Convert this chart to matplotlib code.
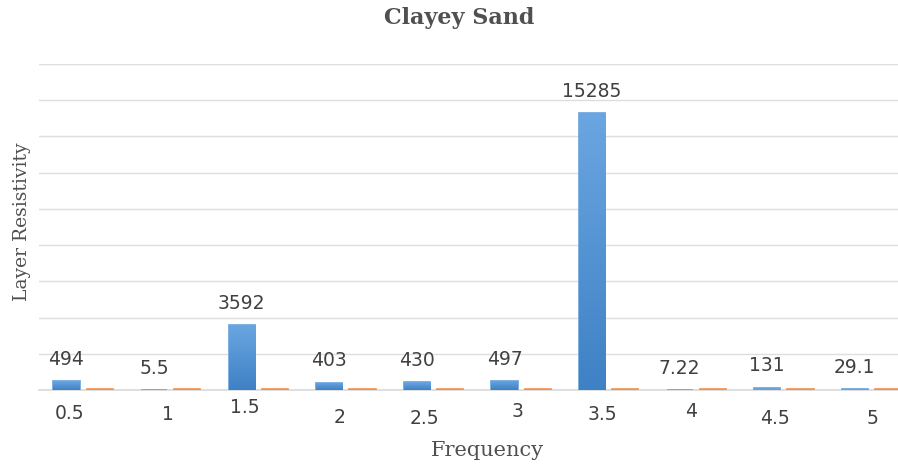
import numpy as np
import matplotlib
matplotlib.use('Agg')
import matplotlib.pyplot as plt
import matplotlib.colors as mcolors

# data
frequency = ['0.5', '1', '1.5', '2', '2.5', '3', '3.5', '4', '4.5', '5']
resistivity = [494, 5.5, 3592, 403, 430, 497, 15285, 7.22, 131, 29.1]
value_labels = ['494', '5.5', '3592', '403', '430', '497', '15285', '7.22', '131', '29.1']
# second (orange) series only shows as thin lines at the baseline
second_series = [40, 40, 40, 40, 40, 40, 40, 40, 40, 40]

# category labels were hand-placed in the original: pixel nudges (dx, dy below axis)
tick_dx = [-13.4, -2.4, -13.7, -6.2, -8.8, -3.4, -6.0, -5.6, -9.2, 1.2]
tick_dy = [22, 23, 16, 26, 27, 20, 23, 20, 27, 27]

PX = 0.72  # points per pixel at dpi 100
txt_col = '#404040'

fig = plt.figure(figsize=(8.98, 4.65), dpi=100, facecolor='w')
ax = fig.add_axes([39.3/898, 75/465, 876/898, 326/465])

x = np.arange(len(frequency))
w, off = 0.30, 0.19
blue_bars = ax.bar(x - off, resistivity, w, color='#66a2de', edgecolor='#66a2de',
                   linewidth=1.2, zorder=3)
ax.bar(x + off, second_series, w, color='#f3904c', edgecolor='#f3904c',
       linewidth=1.2, zorder=3)

# excel-like vertical gradient on the blue bars (only visible on the taller ones)
grad = mcolors.LinearSegmentedColormap.from_list('bgrad', ['#3f81c5', '#6aa6e1'])
for r in blue_bars:
    if r.get_height() < 300:
        continue
    im = ax.imshow(np.linspace(0, 1, 256).reshape(-1, 1), cmap=grad, origin='lower',
                   extent=[r.get_x(), r.get_x() + r.get_width(), 0, r.get_height()],
                   aspect='auto', zorder=3.5, interpolation='bilinear')
    im.set_clip_path(r)

for xi, v, lbl in zip(x, resistivity, value_labels):
    ax.annotate(lbl, (xi - off, v), xytext=(0, 16.3*PX), textcoords='offset points',
                ha='center', va='baseline', fontsize=13.5, color=txt_col)

for xi, lbl, dx, dy in zip(x, frequency, tick_dx, tick_dy):
    ax.annotate(lbl, (xi, 0), xycoords=('data', 'axes fraction'),
                xytext=(dx*PX, -(dy + 6.8)*PX), textcoords='offset points',
                ha='center', va='baseline', fontsize=13.5, color=txt_col,
                annotation_clip=False)

ax.set_xlim(-0.5, 9.5)
ax.set_ylim(0, 18000)
ax.set_yticks(np.arange(0, 18001, 2000))
ax.set_yticklabels([])
ax.set_xticks([])
ax.tick_params(length=0)
ax.grid(axis='y', color='#dedede', linewidth=1.0, zorder=0)
ax.set_axisbelow(True)
for s in ['top', 'right', 'left']:
    ax.spines[s].set_visible(False)
ax.spines['bottom'].set_color('#d9d9d9')
ax.spines['bottom'].set_linewidth(1.2)

fig.text(459/898, 1 - 18/465, 'Clayey Sand', ha='center', va='center', fontsize=16,
         fontweight='bold', family='DejaVu Serif', color='#505050')
fig.text(487.5/898, 1 - 450/465, 'Frequency', ha='center', va='center', fontsize=15,
         family='DejaVu Serif', color='#505050')
fig.text(22/898, 1 - 221.5/465, 'Layer Resistivity', ha='center', va='center',
         rotation=90, fontsize=13.5, family='DejaVu Serif', color='#505050')

fig.savefig('out.png', dpi=100)
